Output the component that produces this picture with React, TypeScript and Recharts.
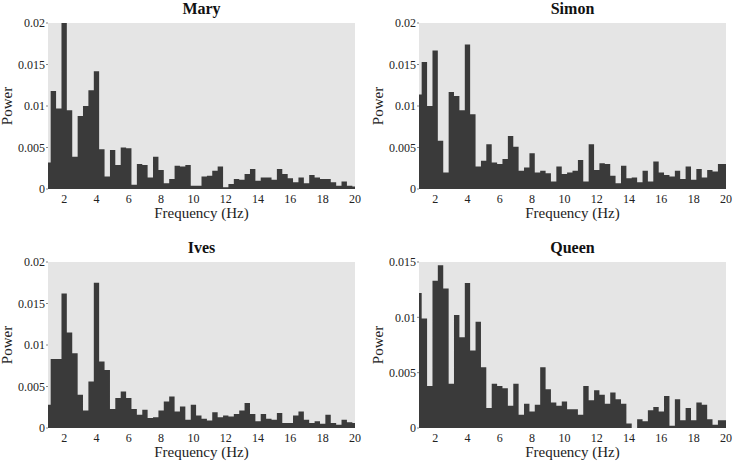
import { ComposedChart, Area, XAxis, YAxis, CartesianGrid } from 'recharts';

// bin centres, 1/3 Hz apart
const freqs = [
  1, 1.33, 1.67, 2, 2.33, 2.67, 3, 3.33, 3.67, 4, 4.33, 4.67, 5, 5.33, 5.67, 6, 6.33, 6.67,
  7, 7.33, 7.67, 8, 8.33, 8.67, 9, 9.33, 9.67, 10, 10.33, 10.67, 11, 11.33, 11.67, 12, 12.33,
  12.67, 13, 13.33, 13.67, 14, 14.33, 14.67, 15, 15.33, 15.67, 16, 16.33, 16.67, 17, 17.33,
  17.67, 18, 18.33, 18.67, 19, 19.33, 19.67, 20,
];

const mary = [
  0.0032, 0.0118, 0.0097, 0.02, 0.0095, 0.0039, 0.0088, 0.01, 0.0119, 0.0142, 0.0048, 0.0015,
  0.0047, 0.0029, 0.005, 0.0049, 0.0005, 0.003, 0.0029, 0.0014, 0.0039, 0.0023, 0.0007, 0.0012,
  0.0028, 0.0027, 0.0029, 0.0004, 0.0004, 0.0015, 0.0016, 0.0022, 0.0027, 0.0002, 0.0006, 0.0012,
  0.0011, 0.0018, 0.0024, 0.001, 0.0014, 0.0014, 0.0011, 0.0024, 0.0018, 0.0013, 0.0008, 0.0014,
  0.0007, 0.0017, 0.0014, 0.0012, 0.0012, 0.0008, 0.0004, 0.0009, 0.0004, 0.0003,
];

const simon = [
  0.0114, 0.0153, 0.01, 0.0167, 0.0058, 0.002, 0.0117, 0.0112, 0.0095, 0.0174, 0.009, 0.0027,
  0.0034, 0.0054, 0.0032, 0.003, 0.0036, 0.0064, 0.0051, 0.0022, 0.0026, 0.0043, 0.002, 0.0022,
  0.0019, 0.0009, 0.0027, 0.0018, 0.002, 0.0022, 0.0035, 0.0009, 0.0054, 0.0023, 0.0031, 0.003,
  0.0016, 0.0007, 0.0028, 0.0013, 0.0014, 0.0008, 0.0022, 0.0009, 0.0033, 0.002, 0.0017, 0.0015,
  0.0022, 0.0012, 0.0027, 0.0011, 0.0024, 0.0014, 0.0023, 0.0021, 0.003, 0.003,
];

const ives = [
  0.0028, 0.0083, 0.0083, 0.0162, 0.0115, 0.009, 0.004, 0.0021, 0.0056, 0.0175, 0.008, 0.007,
  0.0023, 0.0036, 0.0044, 0.0036, 0.0023, 0.0016, 0.0022, 0.0012, 0.0013, 0.0021, 0.0032, 0.0038,
  0.002, 0.0026, 0.001, 0.0028, 0.0015, 0.0011, 0.0009, 0.0019, 0.0013, 0.0015, 0.0014, 0.0017,
  0.0021, 0.003, 0.0017, 0.0008, 0.0017, 0.0011, 0.001, 0.0018, 0.0006, 0.0006, 0.0015, 0.002,
  0.001, 0.0006, 0.0008, 0.0005, 0.0016, 0.0006, 0.0004, 0.001, 0.0007, 0.0006,
];

const queen = [
  0.0122, 0.0099, 0.0038, 0.0133, 0.0147, 0.0126, 0.004, 0.0102, 0.0082, 0.0131, 0.007, 0.0096,
  0.0055, 0.0018, 0.004, 0.0038, 0.0036, 0.002, 0.004, 0.0012, 0.0022, 0.0015, 0.0021, 0.0055,
  0.0035, 0.0023, 0.002, 0.0024, 0.0017, 0.0017, 0.0012, 0.0038, 0.0025, 0.0034, 0.003, 0.0022,
  0.0032, 0.0026, 0.0022, 0.0004, 0, 0.0008, 0.0006, 0.0016, 0.0019, 0.0015, 0.0029, 0.0002,
  0.0026, 0.0007, 0.0018, 0.0007, 0.0023, 0.0021, 0.0008, 0.0003, 0.0007, 0.0007,
];

const xTicks = [2, 4, 6, 8, 10, 12, 14, 16, 18, 20];
const yTicks02 = [0, 0.005, 0.01, 0.015, 0.02];
const yTicks015 = [0, 0.005, 0.01, 0.015];

const FONT = '"Liberation Serif", "Times New Roman", serif';
const BAR = '#3a3a3a';
const BG = '#e5e5e5';
const EDGE = '#c4c4c4';

interface PanelProps {
  title: string;
  values: number[];
  yMax: number;
  yTicks: number[];
  left: number;
  top: number;
}

function Panel({ title, values, yMax, yTicks, left, top }: PanelProps) {
  const data = freqs.map((f, i) => ({ f, p: values[i] }));
  const tickStyle = { fill: '#222', fontSize: 12, style: { fontFamily: FONT } };
  return (
    <div style={{ position: 'absolute', left, top, width: 363, height: 229, fontFamily: FONT }}>
      <div
        style={{
          position: 'absolute',
          left: 48,
          top: 1,
          width: 307,
          textAlign: 'center',
          fontWeight: 'bold',
          fontSize: 16,
          lineHeight: '16px',
          color: '#111',
        }}
      >
        {title}
      </div>
      <ComposedChart
        width={363}
        height={229}
        data={data}
        style={{ fontFamily: FONT }}
        margin={{ top: 23, right: 8, bottom: 10, left: 0 }}
      >
        <CartesianGrid fill={BG} horizontal={false} vertical={false} />
        <XAxis
          dataKey="f"
          type="number"
          domain={[1, 20]}
          ticks={xTicks}
          allowDataOverflow
          axisLine={false}
          tickLine={false}
          tickSize={4}
          tickMargin={1}
          height={30}
          tick={tickStyle}
          label={{
            value: 'Frequency (Hz)',
            position: 'insideBottom',
            offset: 1,
            fill: '#222',
            fontSize: 15,
            style: { fontFamily: FONT },
          }}
        />
        <XAxis
          xAxisId="top"
          orientation="top"
          type="number"
          domain={[1, 20]}
          ticks={xTicks}
          height={0}
          mirror
          tick={false}
          tickSize={3}
          tickLine={{ stroke: '#9a9a9a' }}
          axisLine={{ stroke: EDGE }}
        />
        <YAxis
          type="number"
          domain={[0, yMax]}
          ticks={yTicks}
          allowDataOverflow
          width={48}
          axisLine={false}
          tickSize={2}
          tickMargin={1}
          tickLine={{ stroke: '#8a8a8a' }}
          tick={tickStyle}
          label={{
            value: 'Power',
            angle: -90,
            position: 'insideLeft',
            offset: 7,
            fill: '#222',
            fontSize: 15,
            style: { textAnchor: 'middle', fontFamily: FONT },
          }}
        />
        <YAxis
          yAxisId="right"
          orientation="right"
          type="number"
          domain={[0, yMax]}
          ticks={yTicks}
          width={0}
          mirror
          tick={false}
          tickSize={3}
          tickLine={{ stroke: '#9a9a9a' }}
          axisLine={{ stroke: EDGE }}
        />
        <Area
          type="step"
          dataKey="p"
          fill={BAR}
          fillOpacity={1}
          stroke="none"
          dot={false}
          activeDot={false}
          isAnimationActive={false}
        />
      </ComposedChart>
    </div>
  );
}

export default function App() {
  return (
    <div style={{ position: 'absolute', left: 0, top: 0, width: 733, height: 461, background: '#fff', overflow: 'hidden' }}>
      <Panel title="Mary" values={mary} yMax={0.02} yTicks={yTicks02} left={0} top={0} />
      <Panel title="Simon" values={simon} yMax={0.02} yTicks={yTicks02} left={371} top={0} />
      <Panel title="Ives" values={ives} yMax={0.02} yTicks={yTicks02} left={0} top={238.5} />
      <Panel title="Queen" values={queen} yMax={0.015} yTicks={yTicks015} left={371} top={238.5} />
    </div>
  );
}
